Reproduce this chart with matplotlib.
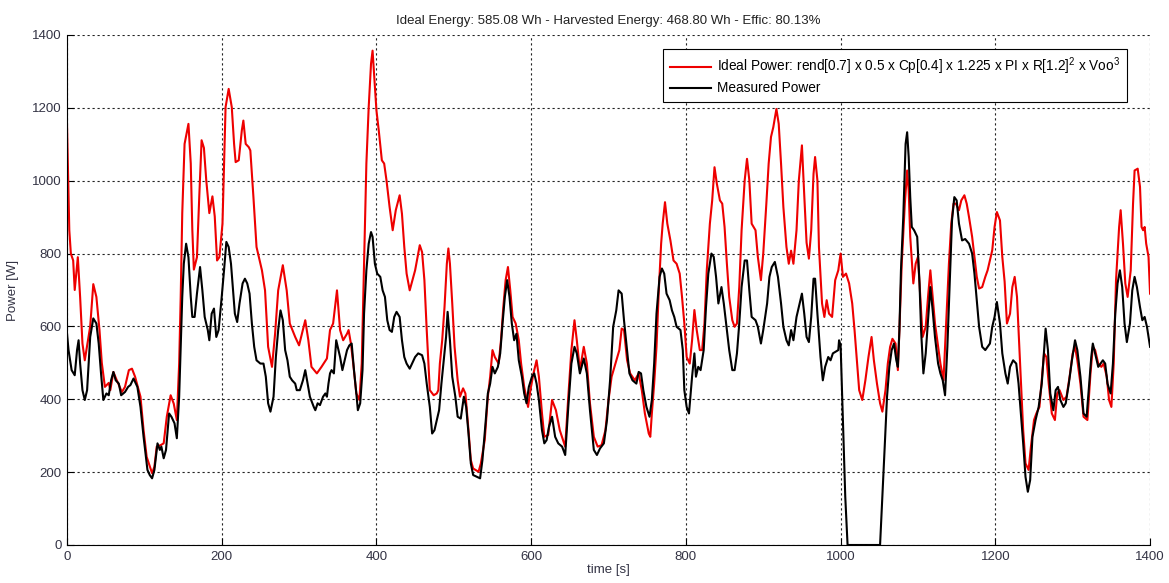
import matplotlib
matplotlib.use('Agg')
import matplotlib.pyplot as plt

plt.rcParams['font.family'] = ['Liberation Sans', 'DejaVu Sans']
plt.rcParams['mathtext.fontset'] = 'custom'
plt.rcParams['mathtext.rm'] = 'Liberation Sans'
plt.rcParams['mathtext.it'] = 'Liberation Sans'

# --- donnees (temps [s], puissance [W]) ---
ideal_t = [
    0, 3, 5, 8, 10, 14, 17, 20, 23, 30, 34, 38, 42, 45, 49, 54, 56, 60, 64, 71,
    75, 80, 84, 88, 95, 99, 103, 110, 113, 116, 121, 125, 129, 134, 138, 142, 145, 147, 149, 152,
    157, 160, 162, 164, 168, 171, 174, 177, 180, 184, 188, 191, 194, 197, 201, 203, 205, 209, 213, 216,
    218, 222, 226, 228, 231, 235, 237, 241, 245, 252, 256, 260, 265, 269, 273, 279, 284, 288, 295, 300,
    308, 312, 316, 323, 329, 336, 340, 344, 349, 353, 357, 362, 364, 367, 370, 374, 378, 381, 383, 385,
    387, 390, 393, 395, 397, 400, 403, 407, 410, 413, 417, 421, 425, 430, 433, 436, 439, 443, 450, 456,
    459, 462, 465, 469, 474, 478, 480, 482, 485, 488, 491, 493, 495, 498, 501, 505, 508, 512, 515, 519,
    522, 525, 532, 535, 540, 544, 547, 550, 553, 558, 561, 564, 567, 570, 573, 576, 580, 584, 587, 591,
    596, 599, 603, 607, 610, 614, 617, 622, 627, 632, 637, 644, 648, 652, 656, 659, 663, 668, 672, 676,
    681, 686, 691, 696, 700, 704, 709, 714, 717, 720, 724, 728, 734, 739, 743, 747, 752, 754, 756, 759,
    762, 765, 768, 770, 773, 776, 780, 784, 788, 792, 795, 798, 801, 805, 808, 811, 814, 818, 821, 824,
    827, 831, 834, 837, 840, 844, 847, 850, 853, 856, 860, 863, 866, 869, 872, 876, 879, 882, 885, 890,
    893, 897, 900, 904, 907, 910, 913, 917, 920, 923, 926, 930, 933, 936, 939, 943, 946, 950, 953, 956,
    959, 962, 965, 967, 970, 972, 976, 979, 982, 985, 989, 993, 997, 1000, 1003, 1007, 1011, 1015, 1018, 1021,
    1024, 1028, 1032, 1036, 1040, 1043, 1047, 1051, 1054, 1058, 1061, 1064, 1067, 1071, 1074, 1076, 1079, 1083, 1086, 1088,
    1090, 1094, 1097, 1100, 1103, 1106, 1110, 1113, 1116, 1119, 1122, 1126, 1129, 1133, 1136, 1140, 1143, 1146, 1149, 1153,
    1156, 1160, 1163, 1166, 1170, 1173, 1176, 1179, 1183, 1187, 1190, 1193, 1196, 1199, 1202, 1206, 1209, 1212, 1215, 1219,
    1222, 1225, 1228, 1231, 1234, 1236, 1239, 1243, 1246, 1250, 1253, 1257, 1260, 1263, 1266, 1269, 1273, 1277, 1280, 1283,
    1288, 1292, 1296, 1300, 1303, 1306, 1310, 1314, 1319, 1323, 1326, 1329, 1333, 1337, 1340, 1344, 1347, 1350, 1353, 1356,
    1360, 1362, 1365, 1368, 1371, 1375, 1378, 1380, 1384, 1387, 1389, 1391, 1393, 1395, 1398, 1400,
]
ideal_w = [
    1156, 864, 800, 781, 700, 790, 680, 553, 507, 600, 716, 681, 590, 500, 434, 445, 425, 475, 454, 420,
    434, 480, 484, 462, 407, 315, 242, 197, 215, 270, 274, 279, 352, 411, 388, 343, 498, 681, 911, 1101,
    1156, 1047, 866, 756, 790, 957, 1111, 1090, 1002, 911, 957, 902, 781, 790, 882, 1047, 1202, 1252, 1202, 1101,
    1051, 1056, 1138, 1165, 1101, 1092, 1083, 955, 818, 754, 699, 544, 489, 580, 699, 768, 699, 608, 571, 548,
    617, 562, 489, 471, 489, 512, 590, 608, 699, 590, 562, 580, 590, 553, 498, 416, 398, 498, 681, 864,
    1047, 1202, 1321, 1357, 1293, 1193, 1138, 1056, 1047, 1001, 928, 864, 919, 960, 909, 818, 745, 699, 754, 823,
    804, 727, 590, 425, 411, 416, 425, 498, 562, 653, 772, 814, 772, 663, 544, 452, 407, 430, 416, 315,
    233, 210, 201, 224, 288, 407, 462, 535, 516, 498, 562, 653, 727, 763, 699, 626, 608, 562, 498, 434,
    379, 425, 471, 507, 462, 361, 297, 302, 398, 370, 315, 270, 407, 535, 617, 562, 480, 544, 498, 389,
    297, 270, 274, 315, 398, 462, 498, 535, 594, 590, 507, 471, 452, 471, 425, 361, 306, 297, 361, 443,
    544, 699, 827, 882, 941, 882, 836, 781, 772, 745, 681, 608, 516, 498, 562, 645, 590, 535, 535, 608,
    754, 882, 946, 1037, 992, 946, 937, 873, 772, 681, 617, 599, 608, 708, 864, 1001, 1060, 1001, 882, 864,
    791, 727, 800, 937, 1047, 1120, 1147, 1197, 1156, 1047, 928, 818, 772, 808, 772, 864, 1001, 1097, 960, 830,
    786, 864, 1019, 1065, 1001, 818, 663, 626, 672, 635, 626, 727, 754, 800, 736, 745, 718, 663, 590, 507,
    425, 398, 452, 516, 571, 507, 443, 389, 366, 425, 498, 544, 566, 553, 480, 590, 772, 937, 1028, 973,
    846, 718, 772, 791, 681, 571, 599, 681, 754, 681, 608, 544, 498, 452, 590, 772, 882, 937, 937, 919,
    946, 960, 937, 900, 846, 791, 736, 704, 708, 736, 754, 781, 809, 873, 914, 891, 791, 723, 608, 635,
    708, 736, 681, 544, 407, 315, 224, 206, 270, 343, 361, 379, 452, 526, 516, 443, 361, 343, 416, 425,
    398, 407, 462, 526, 544, 507, 443, 352, 343, 471, 544, 535, 498, 489, 498, 462, 398, 379, 498, 727,
    873, 919, 827, 718, 681, 754, 937, 1028, 1033, 983, 873, 864, 873, 827, 791, 690,
]

measured_t = [
    0, 2, 6, 10, 13, 15, 17, 20, 23, 26, 30, 34, 38, 41, 44, 47, 51, 54, 57, 60,
    63, 67, 70, 75, 79, 82, 86, 91, 95, 99, 104, 107, 110, 113, 117, 120, 122, 125, 128, 132,
    135, 139, 142, 145, 147, 149, 151, 154, 157, 160, 162, 165, 168, 172, 175, 178, 182, 184, 187, 190,
    193, 196, 200, 203, 206, 209, 212, 215, 217, 220, 223, 227, 230, 233, 236, 239, 242, 245, 250, 254,
    257, 260, 263, 267, 270, 273, 276, 279, 282, 285, 288, 291, 295, 297, 301, 305, 308, 311, 314, 319,
    321, 324, 327, 331, 334, 336, 338, 340, 342, 345, 348, 350, 353, 356, 359, 362, 365, 368, 371, 374,
    376, 379, 382, 384, 387, 390, 393, 395, 398, 401, 405, 408, 411, 414, 417, 420, 423, 426, 430, 433,
    436, 439, 443, 446, 450, 454, 459, 462, 465, 469, 472, 475, 478, 481, 484, 487, 490, 492, 495, 498,
    502, 505, 509, 513, 516, 519, 522, 525, 530, 534, 537, 541, 544, 547, 550, 553, 557, 560, 563, 566,
    569, 572, 575, 578, 581, 584, 588, 591, 594, 597, 601, 604, 607, 610, 614, 617, 620, 623, 627, 631,
    635, 640, 644, 648, 652, 656, 659, 663, 668, 672, 676, 681, 685, 689, 694, 698, 702, 706, 710, 713,
    717, 720, 724, 727, 731, 736, 739, 742, 745, 749, 753, 756, 759, 762, 766, 769, 772, 775, 779, 782,
    785, 788, 793, 796, 798, 801, 804, 808, 811, 813, 816, 819, 823, 826, 829, 833, 836, 839, 842, 846,
    849, 852, 856, 860, 863, 866, 869, 872, 876, 879, 882, 885, 890, 893, 897, 900, 905, 908, 911, 915,
    919, 923, 926, 930, 933, 936, 939, 943, 946, 950, 953, 956, 959, 962, 965, 967, 970, 974, 977, 980,
    984, 987, 990, 993, 997, 998, 1000, 1002, 1004, 1006, 1009, 1051, 1054, 1057, 1060, 1063, 1066, 1069, 1072, 1074,
    1076, 1078, 1081, 1083, 1084, 1086, 1088, 1090, 1092, 1095, 1099, 1102, 1104, 1107, 1110, 1113, 1116, 1119, 1122, 1126,
    1129, 1132, 1135, 1138, 1141, 1144, 1147, 1150, 1153, 1157, 1161, 1166, 1170, 1173, 1176, 1179, 1183, 1187, 1190, 1193,
    1196, 1199, 1202, 1206, 1209, 1213, 1216, 1219, 1223, 1227, 1230, 1233, 1236, 1239, 1242, 1245, 1248, 1252, 1256, 1260,
    1263, 1265, 1268, 1271, 1275, 1278, 1281, 1284, 1288, 1291, 1295, 1299, 1303, 1306, 1310, 1314, 1318, 1321, 1324, 1326,
    1329, 1333, 1336, 1339, 1342, 1345, 1349, 1352, 1355, 1358, 1361, 1364, 1367, 1370, 1374, 1377, 1380, 1383, 1387, 1390,
    1393, 1396, 1400,
]
measured_w = [
    581, 535, 480, 466, 535, 562, 498, 425, 398, 425, 571, 622, 608, 553, 471, 398, 416, 411, 452, 475,
    452, 443, 411, 420, 434, 439, 457, 434, 379, 297, 206, 192, 183, 206, 279, 261, 270, 238, 261, 361,
    352, 334, 293, 407, 544, 681, 772, 827, 790, 681, 626, 626, 690, 763, 699, 626, 590, 562, 635, 649,
    571, 590, 681, 754, 832, 818, 772, 690, 635, 612, 663, 718, 731, 718, 690, 608, 544, 507, 498, 498,
    462, 389, 366, 407, 516, 590, 644, 617, 535, 507, 462, 452, 443, 425, 425, 452, 480, 443, 407, 379,
    370, 389, 384, 407, 416, 407, 443, 471, 480, 471, 562, 544, 516, 480, 507, 535, 548, 553, 480, 416,
    370, 389, 480, 635, 754, 827, 859, 846, 772, 745, 736, 699, 681, 617, 590, 585, 626, 640, 626, 562,
    516, 498, 484, 498, 516, 526, 521, 498, 443, 379, 306, 315, 343, 370, 443, 507, 571, 640, 562, 462,
    407, 352, 347, 407, 379, 306, 224, 192, 187, 183, 233, 334, 416, 443, 489, 471, 489, 526, 608, 681,
    727, 681, 608, 562, 580, 507, 462, 416, 389, 434, 462, 471, 443, 398, 315, 279, 288, 324, 352, 297,
    279, 270, 247, 379, 498, 544, 526, 471, 512, 471, 370, 261, 247, 265, 279, 343, 452, 599, 644, 699,
    690, 617, 535, 471, 452, 443, 475, 471, 425, 379, 352, 398, 498, 635, 736, 759, 745, 690, 672, 644,
    626, 599, 590, 535, 425, 379, 361, 462, 526, 462, 489, 480, 535, 653, 745, 800, 791, 736, 663, 708,
    663, 608, 535, 480, 480, 526, 608, 708, 781, 781, 699, 626, 617, 599, 553, 590, 663, 736, 763, 777,
    736, 663, 599, 562, 548, 590, 562, 626, 653, 690, 635, 571, 557, 626, 731, 731, 635, 516, 452, 489,
    516, 507, 526, 530, 535, 562, 548, 407, 270, 133, 0, 0, 133, 270, 407, 489, 535, 553, 507, 489,
    590, 754, 900, 1028, 1101, 1133, 1065, 955, 873, 864, 846, 718, 590, 471, 526, 617, 708, 644, 571, 498,
    471, 452, 411, 544, 718, 891, 955, 946, 882, 836, 840, 827, 800, 745, 672, 599, 544, 535, 544, 553,
    599, 626, 667, 608, 526, 471, 443, 489, 507, 498, 443, 361, 279, 187, 146, 178, 297, 343, 379, 443,
    535, 594, 535, 416, 370, 425, 434, 398, 379, 389, 443, 507, 562, 535, 462, 361, 352, 434, 516, 553,
    526, 489, 498, 507, 498, 443, 416, 498, 635, 718, 754, 708, 608, 557, 608, 699, 736, 708, 653, 617,
    626, 599, 544,
]

ideal_label = ('Ideal Power: rend[0.7] x 0.5 x Cp[0.4] x 1.225 x PI x '
               'R[1.2]$^{2}$ x Voo$^{3}$')
measured_label = 'Measured Power'
title = 'Ideal Energy: 585.08 Wh - Harvested Energy: 468.80 Wh - Effic: 80.13%'

fig = plt.figure(figsize=(11.69, 5.83), dpi=100)
ax = fig.add_axes([0.0573, 0.0652, 0.9265, 0.8748])

ax.plot(ideal_t, ideal_w, color='#ee0000', linewidth=1.5, label=ideal_label)
ax.plot(measured_t, measured_w, color='black', linewidth=1.5, label=measured_label)

ax.set_xlim(0, 1400)
ax.set_ylim(0, 1400)
ax.set_xticks(range(0, 1401, 200))
ax.set_yticks(range(0, 1401, 200))
ax.grid(True, color='#222222', linestyle=(0, (2, 2.5)), linewidth=0.8)
ax.spines['top'].set_visible(False)
ax.spines['right'].set_visible(False)
ax.tick_params(direction='in', length=5, labelsize=9.5, colors='black',
               labelcolor='#333344', pad=4)

ax.set_xlabel('time [s]', fontsize=9.5, color='#333344', labelpad=1)
ax.set_ylabel('Power [W]', fontsize=9.5, color='#333344', labelpad=9)
ax.set_title(title, fontsize=9.5, color='#222222', pad=8)

leg = ax.legend(loc='upper right', bbox_to_anchor=(0.964, 0.916),
                bbox_transform=fig.transFigure, fontsize=9.8, borderaxespad=0,
                fancybox=False, framealpha=1, edgecolor='black',
                handlelength=3.0, handletextpad=0.45, borderpad=0.5,
                labelspacing=0.3)
leg.get_frame().set_linewidth(0.8)

fig.savefig('out.png', dpi=100)
